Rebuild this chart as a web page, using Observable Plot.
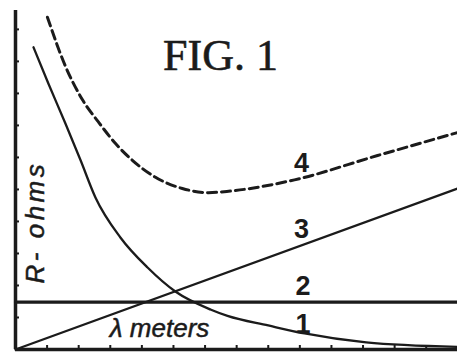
<!DOCTYPE html>
<html><head><meta charset="utf-8">
<script src="https://cdn.jsdelivr.net/npm/d3@7"></script>
<script src="https://cdn.jsdelivr.net/npm/@observablehq/plot@0.6"></script>
<style>body{margin:0;background:#fff} svg{display:block}</style>
</head><body><div id="chart"></div>
<script>
// Curve 1 (decreasing)
const curve1X = [0.57, 1.04, 1.58, 2.06, 2.53, 3.32, 4.18, 5.06, 6.17, 6.71, 8.0, 9.15, 11.1, 14];
const curve1R = [9.44, 8.31, 7.06, 5.91, 4.75, 3.5, 2.56, 1.81, 1.25, 1.05, 0.75, 0.5, 0.22, 0.08];
// Curve 2 (constant)
const curve2X = [0, 14];
const curve2R = [1.48, 1.48];
// Curve 3 (rising straight line)
const curve3X = [0, 14];
const curve3R = [0, 5.03];
// Curve 4 (dashed total)
const curve4X = [1.01, 1.58, 2.12, 2.63, 3.16, 3.70, 4.43, 5.28, 6.11, 6.8, 8.83, 11.46, 14];
const curve4R = [10.38, 8.85, 7.8, 7.1, 6.44, 5.91, 5.38, 5.03, 4.9, 4.95, 5.3, 6.06, 6.78];
// Curve labels
const labelText = ["1", "2", "3", "4"];
const labelX = [9.1, 9.1, 9.05, 9.05];
const labelY = [0.53, 1.69, 3.47, 5.56];
// Ticks
const xTicks = [1,2,3,4,5,6,7,8,9,10,11,12,13];
const yTicks = [1,2,3,4,5,6,7,8,9,10];

const pts = (xs, ys) => xs.map((x, i) => ({x, r: ys[i]}));
const labels = labelText.map((t, i) => ({t, x: labelX[i], y: labelY[i]}));
const ink = "#1b1b1b";

const chart = Plot.plot({
  width: 457, height: 352,
  marginLeft: 15, marginRight: 0, marginTop: 10, marginBottom: 3,
  x: {domain: [0, 13.99], axis: null},
  y: {domain: [0, 10.59], axis: null},
  style: {background: "#fff", color: ink},
  marks: [
    Plot.axisY(yTicks, {anchor: "left", tickSize: -4, tickFormat: () => "", label: null, stroke: ink, strokeWidth: 2}),
    Plot.axisX(xTicks, {anchor: "bottom", tickSize: -4, tickFormat: () => "", label: null, stroke: ink, strokeWidth: 2}),
    Plot.line(pts(curve2X, curve2R), {x: "x", y: "r", stroke: ink, strokeWidth: 3.2}),
    Plot.line(pts(curve3X, curve3R), {x: "x", y: "r", stroke: ink, strokeWidth: 2.3}),
    Plot.line(pts(curve1X, curve1R), {x: "x", y: "r", stroke: ink, strokeWidth: 2.3, curve: "monotone-x"}),
    Plot.line(pts(curve4X, curve4R), {x: "x", y: "r", stroke: ink, strokeWidth: 3, strokeDasharray: "9,5", curve: "monotone-x"}),
    Plot.ruleX([0], {stroke: ink, strokeWidth: 3.5}),
    Plot.ruleY([0], {stroke: ink, strokeWidth: 3.5}),
    Plot.text(labels, {x: "x", y: "y", text: "t", lineAnchor: "bottom", fontSize: 27, fontWeight: "bold", fontFamily: "Liberation Sans", fill: ink}),
    Plot.text(["FIG. 1"], {x: 6.49, y: 8.72, text: d => d, lineAnchor: "bottom", fontSize: 44, fontFamily: "Liberation Serif", fill: ink, stroke: ink, strokeWidth: 0.6}),
    Plot.text(["λ meters"], {x: 4.56, y: 0.375, text: d => d, lineAnchor: "bottom", fontSize: 26, fontStyle: "italic", fontFamily: "Liberation Sans", fill: ink, stroke: ink, strokeWidth: 0.5}),
    Plot.text(["R- ohms"], {x: 0.63, y: 3.98, text: d => d, rotate: -90, fontSize: 26, fontStyle: "italic", fontFamily: "Liberation Sans", fill: ink, stroke: ink, strokeWidth: 0.5})
  ]
});
d3.select(chart).selectAll("text").filter(function() { return this.textContent === "R- ohms"; })
  .attr("letter-spacing", "3.5px");
document.getElementById("chart").appendChild(chart);
</script>
</body></html>
